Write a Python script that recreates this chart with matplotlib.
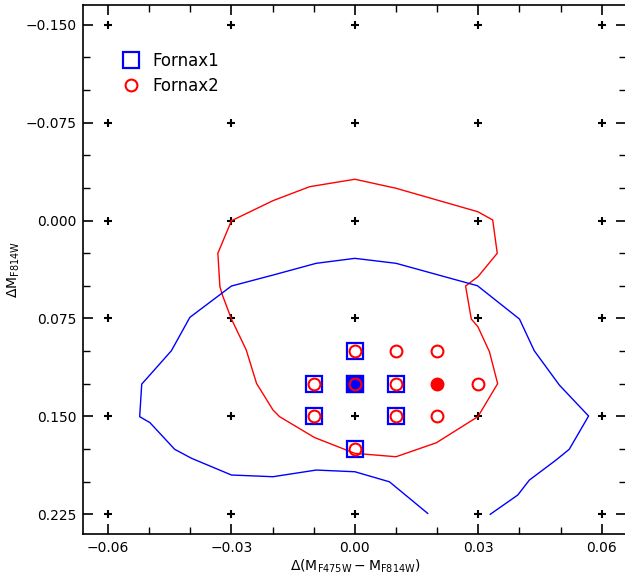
import matplotlib
matplotlib.use("Agg")
import matplotlib.pyplot as plt
import numpy as np


# grid of model offsets (black crosses)
grid_x = [-0.06, -0.03, 0.0, 0.03, 0.06]
grid_y = [-0.150, -0.075, 0.0, 0.075, 0.150, 0.225]

# Fornax1 points (blue squares), best one filled
f1_x = [0.0, -0.01, 0.0, 0.01, -0.01, 0.01, 0.0]
f1_y = [0.100, 0.125, 0.125, 0.125, 0.150, 0.150, 0.175]
f1_best = (0.0, 0.125)

# Fornax2 points (red circles), best one filled
f2_x = [0.0, 0.01, 0.02, -0.01, 0.0, 0.01, 0.03, -0.01, 0.01, 0.02, 0.0]
f2_y = [0.100, 0.100, 0.100, 0.125, 0.125, 0.125, 0.125, 0.150, 0.150, 0.150, 0.175]
f2_best = (0.02, 0.125)

# red contour (closed)
red_x = [-0.0300, -0.0333, -0.0328, -0.0322, -0.0300, -0.0264, -0.0239, -0.0199,
         -0.0183, -0.0098, 0.0000, 0.0100, 0.0198, 0.0299, 0.0347, 0.0327, 0.0299,
         0.0283, 0.0269, 0.0299, 0.0346, 0.0335, 0.0299, 0.0100, 0.0000, -0.0110,
         -0.0199, -0.0300]
red_y = [0.0002, 0.0251, 0.0507, 0.0571, 0.0755, 0.0992, 0.1248, 0.1452,
         0.1503, 0.1663, 0.1784, 0.1810, 0.1703, 0.1503, 0.1250, 0.1005, 0.0814,
         0.0755, 0.0502, 0.0431, 0.0251, -0.0004, -0.0067, -0.0247, -0.0316, -0.0259,
         -0.0152, 0.0002]

# blue contour (open at the bottom)
blue_x = [0.0177, 0.0084, 0.0000, -0.0094, -0.0199, -0.0300, -0.0397, -0.0438,
          -0.0498, -0.0523, -0.0518, -0.0502, -0.0446, -0.0401, -0.0300, -0.0199,
          -0.0094, 0.0000, 0.0100, 0.0298, 0.0400, 0.0436, 0.0497, 0.0568, 0.0521,
          0.0489, 0.0424, 0.0396, 0.0329]
blue_y = [0.2244, 0.2002, 0.1925, 0.1912, 0.1963, 0.1950, 0.1822, 0.1753,
          0.1549, 0.1503, 0.1253, 0.1197, 0.0998, 0.0742, 0.0502, 0.0418,
          0.0328, 0.0290, 0.0328, 0.0500, 0.0755, 0.0998, 0.1261, 0.1498, 0.1753,
          0.1835, 0.1989, 0.2103, 0.2251]

plt.rcParams['mathtext.fontset'] = 'dejavusans'

fig = plt.figure(figsize=(6.25, 5.76), dpi=100)
ax = fig.add_axes([0.1333, 0.0729, 0.869, 0.9184])

gx, gy = np.meshgrid(grid_x, grid_y)
ax.plot(gx.ravel(), gy.ravel(), 'k+', ms=6, mew=1.5, zorder=1)

ax.plot(red_x, red_y, color='red', lw=1, zorder=2)
ax.plot(blue_x, blue_y, color='blue', lw=1, zorder=2)

ax.plot(f1_x, f1_y, 's', mfc='none', mec='blue', mew=1.6, ms=11, ls='none',
        label='Fornax1', zorder=3)
ax.plot(*f1_best, 's', mfc='blue', mec='blue', mew=1.6, ms=11, zorder=3)
ax.plot(f2_x, f2_y, 'o', mfc='none', mec='red', mew=1.5, ms=8.5, ls='none',
        label='Fornax2', zorder=4)
ax.plot(*f2_best, 'o', mfc='red', mec='red', mew=1.5, ms=8.5, zorder=4)

ax.set_xlim(-0.066, 0.066)
ax.set_ylim(0.2402, -0.1651)

ax.set_xticks([-0.06, -0.03, 0.0, 0.03, 0.06])
ax.set_xticklabels(['\u22120.06', '\u22120.03', '0.00', '0.03', '0.06'])
ax.set_xticks(np.arange(-0.06, 0.061, 0.01), minor=True)
ax.set_yticks([-0.150, -0.075, 0.0, 0.075, 0.150, 0.225])
ax.set_yticklabels(['\u22120.150', '\u22120.075', '0.000', '0.075', '0.150', '0.225'])
ax.set_yticks(np.arange(-0.150, 0.226, 0.025), minor=True)
ax.tick_params(which='both', direction='in', top=True, right=True, labelsize=10)
ax.tick_params(which='major', length=7, width=1.2, pad=5)
ax.tick_params(which='minor', length=5, width=1.0)
for s in ax.spines.values():
    s.set_linewidth(1.2)

ax.set_xlabel(r'$\Delta(\mathrm{M}_{\mathrm{F475W}}-\mathrm{M}_{\mathrm{F814W}})$', fontsize=10, labelpad=2)
ax.set_ylabel(r'$\Delta\mathrm{M}_{\mathrm{F814W}}$', fontsize=10, labelpad=2)

ax.legend(loc='upper left', bbox_to_anchor=(0.044, 0.939), frameon=False, fontsize=12,
          handlelength=1.0, handletextpad=0.8, labelspacing=0.4)

plt.savefig('out.png', dpi=100)
plt.close()
